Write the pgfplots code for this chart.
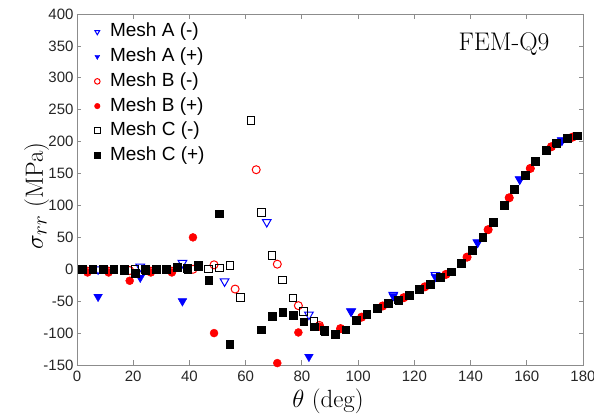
\documentclass[border=0pt]{standalone}
\usepackage{fontspec}
\setsansfont{Liberation Sans}
\usepackage{pgfplots}
\pgfplotsset{compat=1.18}
\begin{document}
\begin{tikzpicture}
\useasboundingbox (-77pt,-52pt) rectangle (517pt,365pt);
\begin{axis}[
  at={(0pt,0pt)}, anchor=south west,
  scale only axis, width=506pt, height=351pt,
  xmin=0, xmax=180, ymin=-150, ymax=400,
  xtick={0,20,...,180}, ytick={-150,-100,...,400},
  tick align=inside, major tick length=4.5pt,
  axis line style={black!45, line width=0.8pt},
  every tick/.style={black!45, line width=0.8pt},
  /pgf/number format/assume math mode=true,
  ticklabel style={font=\sffamily\fontsize{15}{18}\selectfont, text=black!85},
  xticklabel style={yshift=-2pt},
  xlabel={$\theta$ (deg)}, ylabel={$\sigma_{rr}$ (MPa)},
  label style={font=\fontsize{24.88}{30}\selectfont},
  xlabel style={at={(axis description cs:0.496,-0.1197)}, anchor=base},
  ylabel style={at={(axis description cs:-0.0672,0.482)}, anchor=base},
  clip=false,
  legend style={at={(axis description cs:0.0342,0.975)}, anchor=north west,
    draw=none, fill=none, inner sep=0pt,
    font=\sffamily\fontsize{19}{22}\selectfont,
    nodes={inner sep=0pt, text height=14pt, text depth=4pt},
    row sep=6.7pt,
    /tikz/every odd column/.append style={column sep=10pt}},
  legend cell align=left,
  legend image code/.code={\draw[#1,/tikz/mark size=2.8pt] plot coordinates {(0pt,0pt)};},
]
% Mesh A (-)
\addplot[only marks, blue, mark=triangle, mark size=5pt, mark options={solid, rotate=180, line width=1pt}]
coordinates {(7.5,0) (22.5,4) (37.5,10) (52.5,-19) (67.5,74) (82.5,-71) (97.5,-66) (112.5,-40) (127.5,-9) (142.5,42) (157.5,141) (172.5,202)};
\addlegendentry{Mesh A (-)}
% Mesh A (+)
\addplot[only marks, blue, mark=triangle*, mark size=5pt, mark options={solid, rotate=180, fill=blue}]
coordinates {(7.5,-43) (22.5,-13) (37.5,-50) (82.5,-137) (97.5,-66) (112.5,-42) (127.5,-12) (142.5,42) (157.5,141) (172.5,202)};
\addlegendentry{Mesh A (+)}
% Mesh B (-)
\addplot[only marks, red, mark=o, mark size=4pt, mark options={solid, line width=1pt}]
coordinates {(3.75,-3) (11.25,-3) (18.75,-2) (26.25,-3) (33.75,-3) (41.25,0) (48.75,7) (56.25,-31) (63.75,156) (71.25,8) (78.75,-57) (86.25,-88) (93.75,-93) (101.25,-75) (108.75,-57.5) (116.25,-44.5) (123.75,-27.5) (131.25,-8) (138.75,19) (146.25,62) (153.75,112) (161.25,158) (168.75,192) (176.25,207)};
\addlegendentry{Mesh B (-)}
% Mesh B (+)
\addplot[only marks, red, mark=*, mark size=4pt, mark options={solid, fill=red}]
coordinates {(3.75,-5) (11.25,-5) (18.75,-18) (26.25,-5) (33.75,-5) (41.25,50) (48.75,-100) (71.25,-147) (78.75,-99) (86.25,-90) (93.75,-93) (101.25,-75) (108.75,-57.5) (116.25,-44.5) (123.75,-27.5) (131.25,-8) (138.75,19) (146.25,62) (153.75,112) (161.25,158) (168.75,192) (176.25,207)};
\addlegendentry{Mesh B (+)}
% Mesh C (-)
\addplot[only marks, black, mark=square, mark size=3.8pt, mark options={solid, line width=1pt}]
coordinates {(1.875,0) (5.625,0) (9.375,0) (13.125,0) (16.875,0) (20.625,0) (24.375,0) (28.125,0) (31.875,0) (35.625,2) (39.375,1) (43.125,4) (46.875,0.5) (50.625,2) (54.375,6) (58.125,-44) (61.875,233) (65.625,89) (69.375,22) (73.125,-17) (76.875,-45) (80.625,-66) (84.375,-82) (88.125,-96) (91.875,-102) (95.625,-95) (99.375,-80) (103.125,-70) (106.875,-61) (110.625,-54) (114.375,-48) (118.125,-41) (121.875,-32) (125.625,-23) (129.375,-12.5) (133.125,-4) (136.875,9) (140.625,29) (144.375,50) (148.125,74) (151.875,100) (155.625,125) (159.375,147) (163.125,169) (166.875,186) (170.625,198) (174.375,205) (178.125,209)};
\addlegendentry{Mesh C (-)}
% Mesh C (+)
\addplot[only marks, black, mark=square*, mark size=3.8pt, mark options={solid, fill=black}]
coordinates {(1.875,0) (5.625,0) (9.375,0) (13.125,0) (16.875,-1) (20.625,-6) (24.375,-1) (28.125,0) (31.875,1) (35.625,3) (39.375,0) (43.125,6) (46.875,-17) (50.625,87) (54.375,-117) (65.625,-95) (69.375,-74) (73.125,-67) (76.875,-72) (80.625,-82) (84.375,-90) (88.125,-97) (91.875,-102) (95.625,-95) (99.375,-80) (103.125,-70) (106.875,-61) (110.625,-54) (114.375,-48) (118.125,-41) (121.875,-32) (125.625,-23) (129.375,-12.5) (133.125,-4) (136.875,9) (140.625,29) (144.375,50) (148.125,74) (151.875,100) (155.625,125) (159.375,147) (163.125,169) (166.875,186) (170.625,198) (174.375,205) (178.125,209)};
\addlegendentry{Mesh C (+)}
\node[anchor=base west, font=\fontsize{25.5}{30}\selectfont] at (axis description cs:0.747,0.897) {FEM-Q9};
\end{axis}
\end{tikzpicture}
\end{document}
